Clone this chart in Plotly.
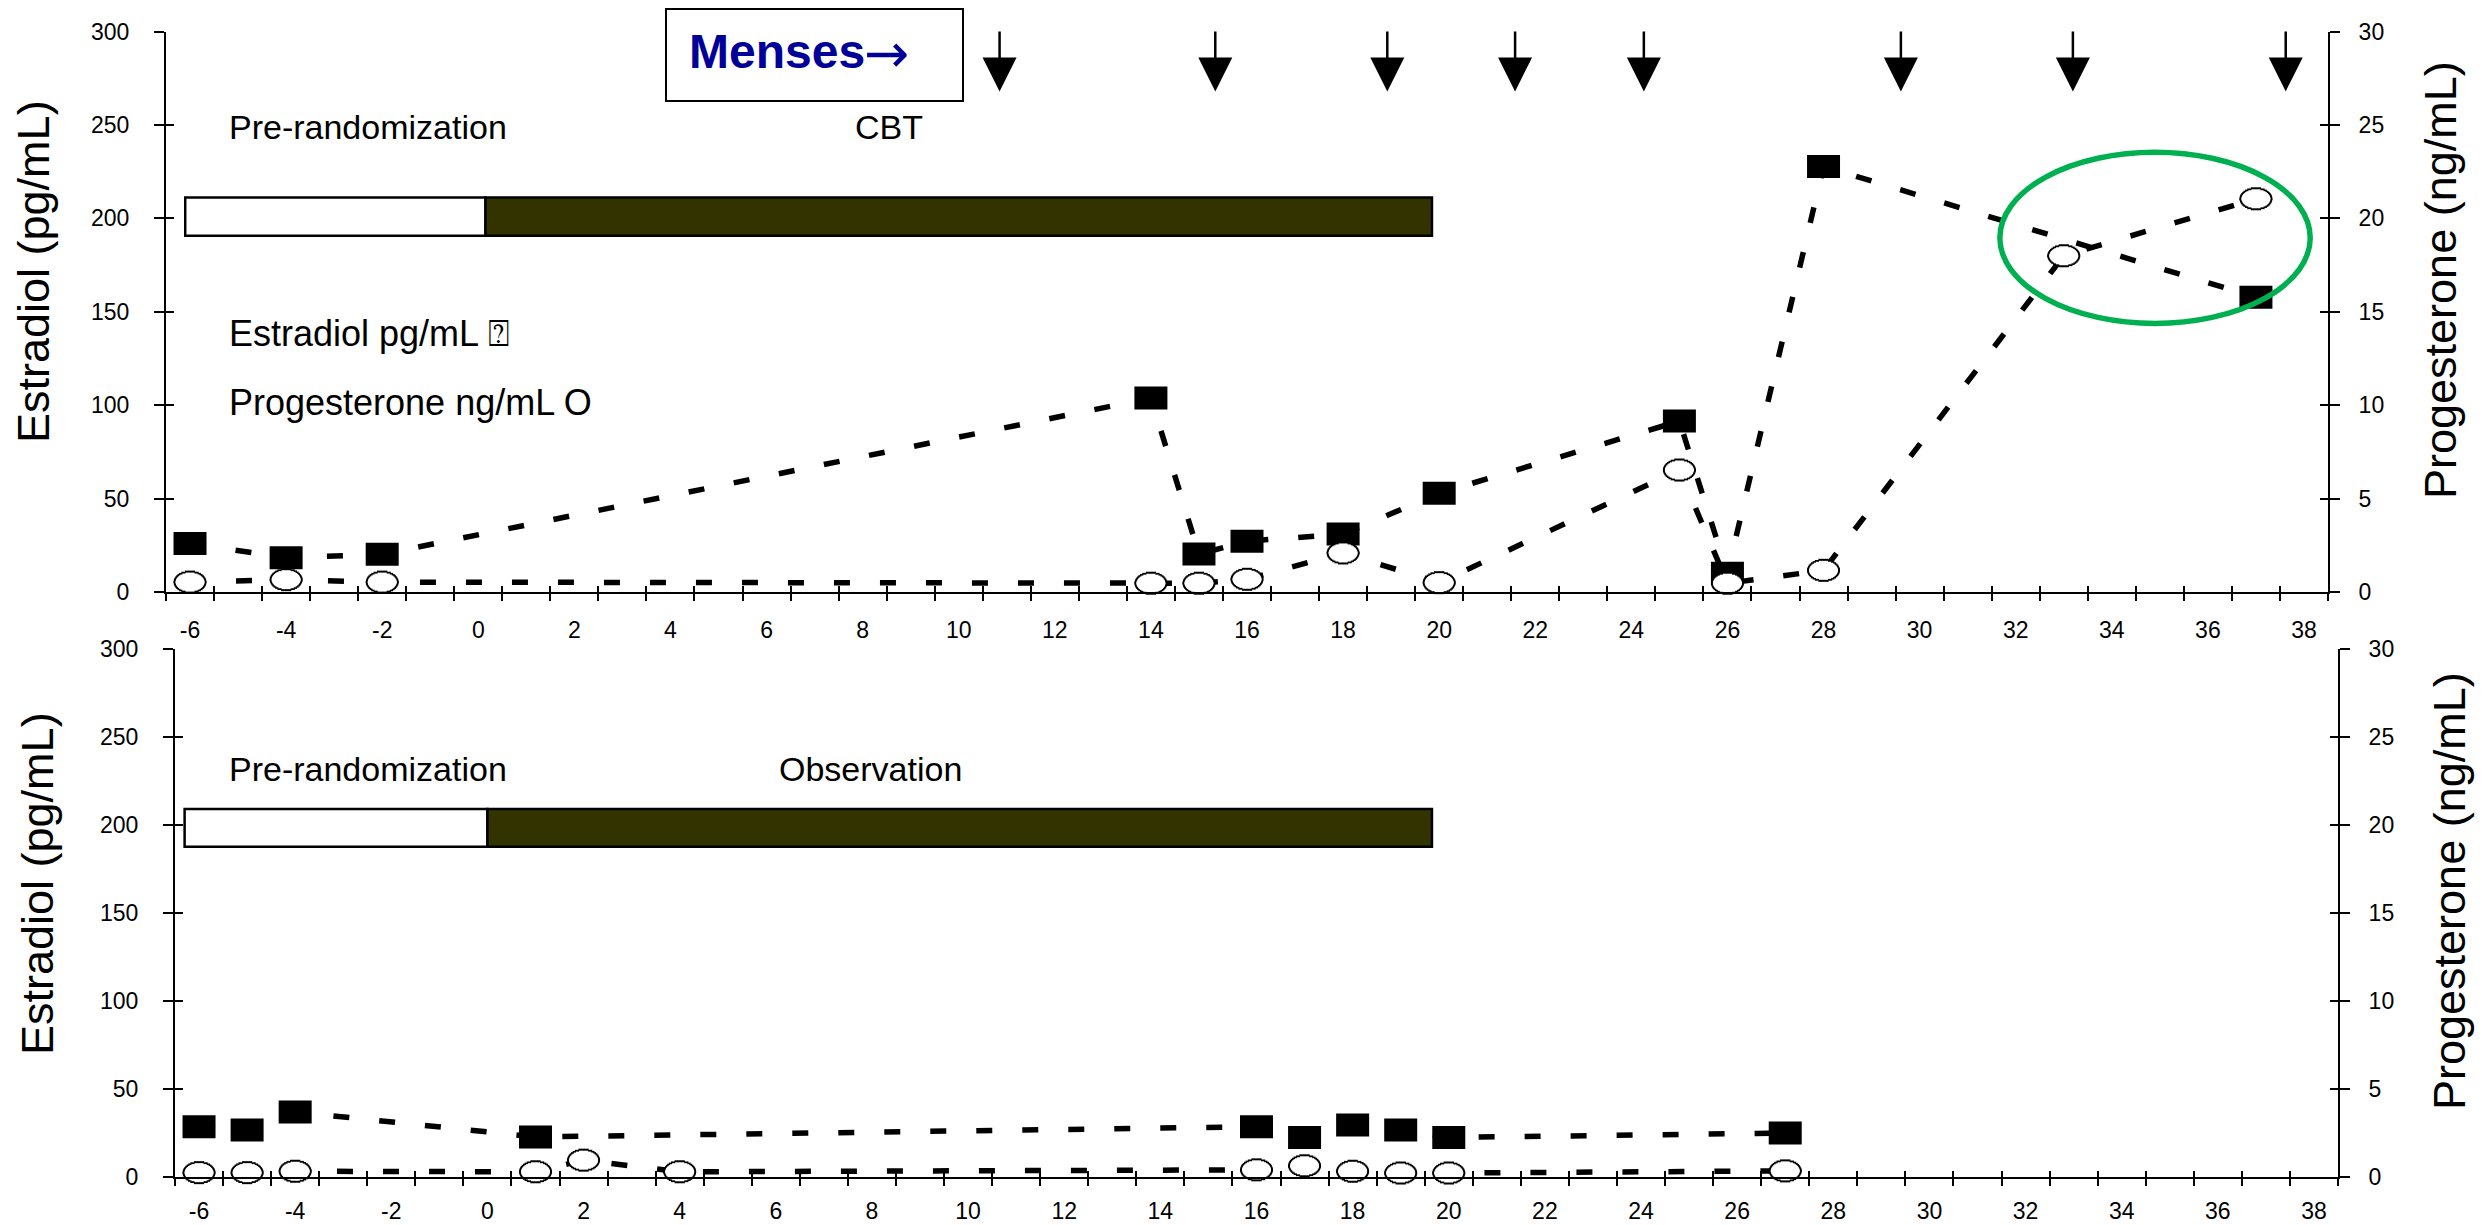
import math
import plotly.graph_objects as go

# Screen size and the browser's default 8px body margin (the figure starts at 8,8)
W, H = 2484, 1225
OFF = 8
FW, FH = W - OFF, H - OFF
FONT = "Liberation Sans, Arial, DejaVu Sans, sans-serif"

# ---------------- data ----------------
top_e_days = [-6, -4, -2, 14, 15, 16, 18, 20, 25, 26, 28, 37]
top_e_vals = [26.0, 18.4, 20.2, 103.8, 20.3, 27.2, 31.0, 52.9, 91.5, 10.0, 227.8, 157.8]
top_p_days = [-6, -4, -2, 14, 15, 16, 18, 20, 25, 26, 28, 33, 37]
top_p_vals = [0.53, 0.66, 0.53, 0.47, 0.47, 0.68, 2.09, 0.50, 6.53, 0.47, 1.16, 18.0, 21.05]

bot_e_days = [-6, -5, -4, 1, 16, 17, 18, 19, 20, 27]
bot_e_vals = [28.4, 26.5, 36.8, 22.6, 28.4, 22.3, 29.4, 26.5, 22.3, 24.8]
bot_p_days = [-6, -5, -4, 1, 2, 4, 16, 17, 18, 19, 20, 27]
bot_p_vals = [0.23, 0.23, 0.31, 0.28, 0.94, 0.28, 0.39, 0.62, 0.31, 0.21, 0.21, 0.33]

menses_days = [10.85, 15.34, 18.92, 21.58, 24.26, 29.61, 33.19, 37.62]

top_phase_labels = ["Pre-randomization", "CBT"]
bot_phase_labels = ["Pre-randomization", "Observation"]
top_phase_edges = [-6.1, 0.15, 19.85]
bot_phase_edges = [-6.3, 0.0, 19.65]

x_ticks = list(range(-6, 39, 2))
e_ticks = list(range(0, 301, 50))
p_ticks = list(range(0, 31, 5))

# ---------------- layout geometry (screen px) ----------------
TOP = dict(l=166, r=2328, t=31.6, b=592)
BOT = dict(l=175, r=2338, t=648.9, b=1176.7)
XR = [-6.5, 38.5]


def px(x):
    return (x - OFF) / FW


def py(y):
    return 1 - (y - OFF) / FH


def xdom(p):
    return [px(p["l"]), px(p["r"])]


def ydom(p):
    return [py(p["b"]), py(p["t"])]


DASH = "16px,30px"
LW = 5.5
LINE_EW = 1.4  # plotly 'line-ew' marker length = 1.4 * size


def rect_stack(wd, ht, n):
    """(width, height) pairs whose union approximates an ellipse wd x ht."""
    a, b = wd / 2.0, ht / 2.0
    out = []
    for j in range(n):
        hh = b * (j + 1) / n
        hw = a * math.sqrt(max(0.0, 1 - ((j + 0.5) / n) ** 2))
        out.append((2 * hw, 2 * hh))
    return out


def rect_marker_trace(days, vals, shapes_wh, color, xa, ya):
    xs, ys, sizes, widths = [], [], [], []
    for w_, h_ in shapes_wh:
        xs += list(days)
        ys += list(vals)
        sizes += [w_ / LINE_EW] * len(days)
        widths += [h_] * len(days)
    return go.Scatter(x=xs, y=ys, mode="markers",
                      marker=dict(symbol="line-ew", size=sizes, color=color, opacity=1,
                                  line=dict(color=color, width=widths)),
                      xaxis=xa, yaxis=ya, cliponaxis=False, showlegend=False, hoverinfo="skip")


fig = go.Figure()


def add_panel(p, xa, ya, ya2, e_days, e_vals, p_days, p_vals, edges, band):
    # phase bars
    fig.add_trace(go.Bar(
        orientation="h", y=[(band[0] + band[1]) / 2] * 2,
        x=[edges[1] - edges[0], edges[2] - edges[1]], base=[edges[0], edges[1]],
        width=[band[1] - band[0]] * 2,
        marker=dict(color=["white", "#333300"], line=dict(color="black", width=2.5)),
        xaxis=xa, yaxis=ya, showlegend=False, hoverinfo="skip"))
    # estradiol (filled rectangles)
    fig.add_trace(go.Scatter(x=e_days, y=e_vals, mode="lines",
                             line=dict(color="black", width=LW, dash=DASH),
                             xaxis=xa, yaxis=ya, cliponaxis=False, showlegend=False, hoverinfo="skip"))
    fig.add_trace(rect_marker_trace(e_days, e_vals, [(33, 23)], "black", xa, ya))
    # progesterone (open ellipses)
    fig.add_trace(go.Scatter(x=p_days, y=p_vals, mode="lines",
                             line=dict(color="black", width=LW, dash=DASH),
                             xaxis=xa, yaxis=ya2, cliponaxis=False, showlegend=False, hoverinfo="skip"))
    fig.add_trace(rect_marker_trace(p_days, p_vals, rect_stack(33, 23, 10), "black", xa, ya2))
    fig.add_trace(rect_marker_trace(p_days, p_vals, rect_stack(29, 19, 10), "white", xa, ya2))


add_panel(TOP, "x", "y", "y2", top_e_days, top_e_vals, top_p_days, top_p_vals,
          top_phase_edges, (190.7, 211.2))
add_panel(BOT, "x2", "y3", "y4", bot_e_days, bot_e_vals, bot_p_days, bot_p_vals,
          bot_phase_edges, (187.5, 209.0))

# menses arrows
ARROW_TOP, ARROW_NECK, ARROW_TIP = 306.5, 282.0, 268.0
sx, sy = [], []
for d in menses_days:
    sx += [d, d, None]
    sy += [ARROW_TOP, ARROW_NECK, None]
fig.add_trace(go.Scatter(x=sx, y=sy, mode="lines", line=dict(color="black", width=2.5),
                         xaxis="x", yaxis="y", cliponaxis=False, showlegend=False, hoverinfo="skip"))
fig.add_trace(go.Scatter(x=menses_days, y=[ARROW_TIP] * len(menses_days), mode="markers",
                         marker=dict(symbol="arrow-down", size=34, color="black", opacity=1,
                                     line=dict(width=0)),
                         xaxis="x", yaxis="y", cliponaxis=False, showlegend=False, hoverinfo="skip"))

# empty traces that bind the inner-tick overlay axes
for xa_, ya_ in [("x3", "y"), ("x", "y5"), ("x", "y6"), ("x4", "y3"), ("x2", "y7"), ("x2", "y8")]:
    fig.add_trace(go.Scatter(x=[], y=[], xaxis=xa_, yaxis=ya_, showlegend=False, hoverinfo="skip"))

tickfont = dict(size=23, family=FONT, color="black")


def xaxis_cfg(p, anchor, standoff):
    return dict(domain=xdom(p), range=XR, anchor=anchor, showline=True, linewidth=2,
                linecolor="black", showgrid=False, zeroline=False, tickmode="array",
                tickvals=x_ticks, ticktext=[str(v) for v in x_ticks], ticks="outside",
                ticklen=7, tickcolor="rgba(0,0,0,0)", tickfont=tickfont,
                minor=dict(tickmode="linear", tick0=-5.5, dtick=1, ticks="outside",
                           ticklen=7, tickwidth=2, tickcolor="black"),
                ticklabelstandoff=standoff, automargin=False, fixedrange=True)


def xaxis_inner(over, anchor):
    return dict(overlaying=over, anchor=anchor, side="bottom", range=XR, showline=False,
                showgrid=False, zeroline=False, showticklabels=False, tickmode="linear",
                tick0=-5.5, dtick=1, ticks="inside", ticklen=6, tickwidth=2, tickcolor="black",
                automargin=False, fixedrange=True)


def yaxis_cfg(p, anchor, rng, ticks, side, overlaying=None, standoff=20):
    d = dict(range=rng, anchor=anchor, side=side, showline=True, linewidth=2, linecolor="black",
             showgrid=False, zeroline=False, tickmode="array", tickvals=ticks,
             ticktext=[str(v) for v in ticks], ticks="outside", ticklen=10, tickwidth=2,
             tickcolor="black", tickfont=tickfont, ticklabelstandoff=standoff,
             automargin=False, fixedrange=True)
    if overlaying:
        d["overlaying"] = overlaying
    else:
        d["domain"] = ydom(p)
    return d


def yaxis_inner(over, anchor, rng, ticks, side):
    return dict(overlaying=over, anchor=anchor, side=side, range=rng, showline=False,
                showgrid=False, zeroline=False, showticklabels=False, tickmode="array",
                tickvals=ticks, ticks="inside", ticklen=8, tickwidth=2, tickcolor="black",
                automargin=False, fixedrange=True)


shapes = [
    dict(type="rect", xref="paper", yref="paper", x0=px(666), x1=px(963), y0=py(101), y1=py(9),
         line=dict(color="black", width=2), fillcolor="white", layer="above"),
    dict(type="circle", xref="x", yref="y", x0=31.67, x1=38.13, y0=143.8, y1=235.4,
         line=dict(color="#00B050", width=5.5), layer="above"),
]


def txt(text, x, y, size=35, xanchor="left", color="black", angle=0, family=FONT):
    return dict(text=text, x=px(x), y=py(y), xref="paper", yref="paper", showarrow=False,
                xanchor=xanchor, yanchor="middle", textangle=angle,
                font=dict(size=size, family=family, color=color))


annotations = [
    txt("<b>Menses</b>", 687, 51, size=48, color="#000099"),
    txt("→", 862, 54, size=54, color="#000099", family="DejaVu Sans, sans-serif"),
    txt(top_phase_labels[0], 227, 127, size=34),
    txt(top_phase_labels[1], 888.5, 127, size=34, xanchor="center"),
    txt(bot_phase_labels[0], 227, 769, size=34),
    txt(bot_phase_labels[1], 870, 769, size=34, xanchor="center"),
    txt("Estradiol pg/mL ⍰", 227, 333, size=36),
    txt("Progesterone ng/mL O", 227, 402, size=36),
    txt("Estradiol (pg/mL)", 33, 272, size=45, xanchor="center", angle=-90),
    txt("Progesterone (ng/mL)", 2441, 280, size=45, xanchor="center", angle=-90),
    txt("Estradiol (pg/mL)", 37, 884, size=45, xanchor="center", angle=-90),
    txt("Progesterone (ng/mL)", 2449, 891, size=45, xanchor="center", angle=-90),
]

fig.update_layout(
    width=FW, height=FH, margin=dict(l=0, r=0, t=0, b=0, autoexpand=False),
    paper_bgcolor="white", plot_bgcolor="white", showlegend=False, barmode="overlay",
    font=dict(family=FONT, color="black"),
    xaxis=xaxis_cfg(TOP, "y", 9),
    xaxis2=xaxis_cfg(BOT, "y3", 6),
    xaxis3=xaxis_inner("x", "y"),
    xaxis4=xaxis_inner("x2", "y3"),
    yaxis=yaxis_cfg(TOP, "x", [0, 300], e_ticks, "left"),
    yaxis2=yaxis_cfg(TOP, "x", [0, 30], p_ticks, "right", overlaying="y", standoff=14),
    yaxis3=yaxis_cfg(BOT, "x2", [0, 300], e_ticks, "left"),
    yaxis4=yaxis_cfg(BOT, "x2", [0, 30], p_ticks, "right", overlaying="y3", standoff=14),
    yaxis5=yaxis_inner("y", "x", [0, 300], e_ticks, "left"),
    yaxis6=yaxis_inner("y", "x", [0, 30], p_ticks, "right"),
    yaxis7=yaxis_inner("y3", "x2", [0, 300], e_ticks, "left"),
    yaxis8=yaxis_inner("y3", "x2", [0, 30], p_ticks, "right"),
    shapes=shapes, annotations=annotations,
)

fig.write_html("out.html")
